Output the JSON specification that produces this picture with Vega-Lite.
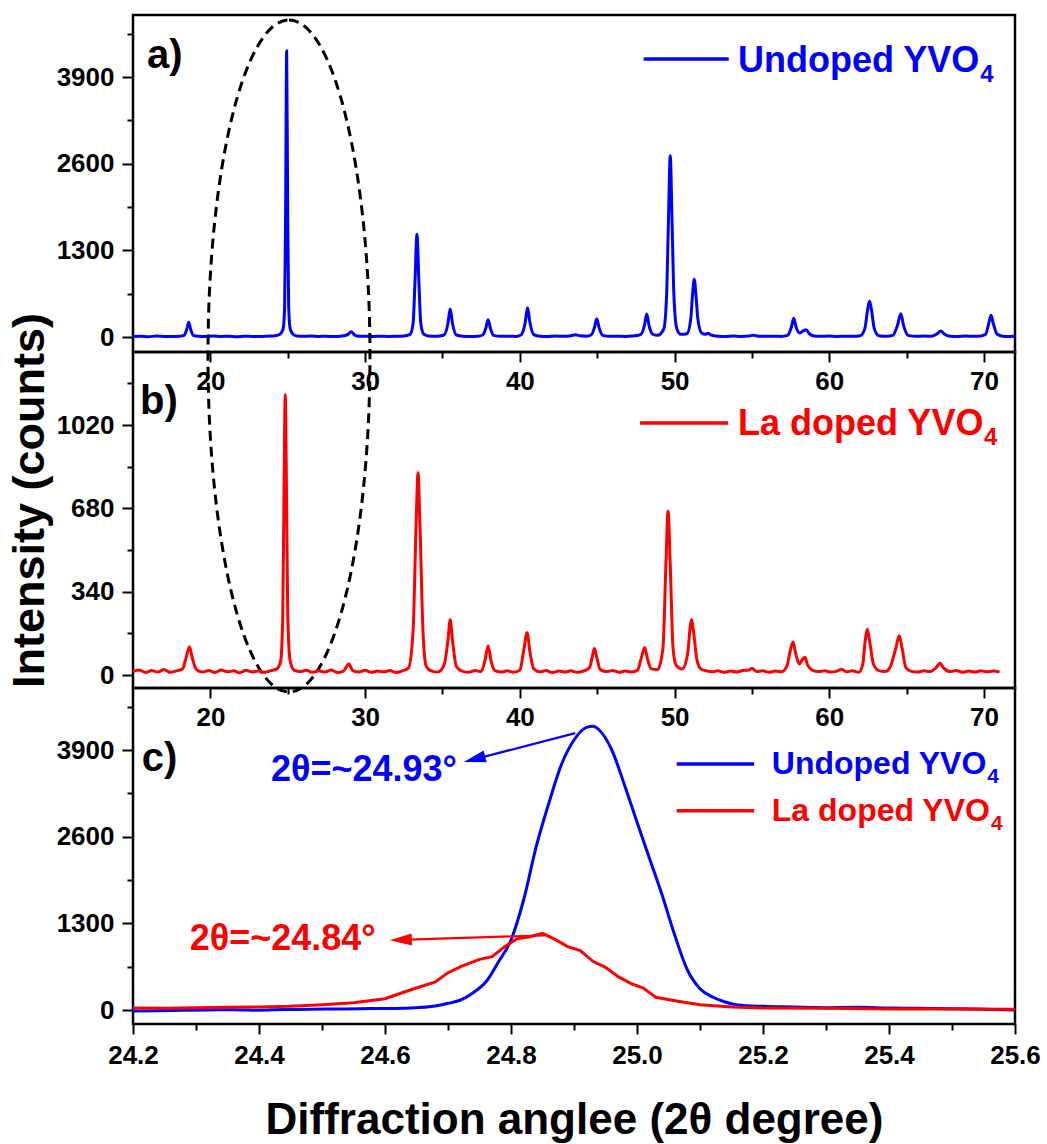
{
  "$schema": "https://vega.github.io/schema/vega-lite/v6.json",
  "background": "white",
  "padding": {"left": 5, "top": 12, "right": 5, "bottom": 5},
  "bounds": "flush",
  "spacing": 0,
  "config": {
    "view": {"stroke": "black", "strokeWidth": 2.5},
    "font": "Liberation Sans",
    "axis": {"domain": false, "grid": false, "tickColor": "black", "tickWidth": 2, "labelFont": "Liberation Sans", "labelFontWeight": "bold", "labelFontSize": 26, "labelColor": "black", "labelOverlap": false, "labelFlush": false, "titleFont": "Liberation Sans", "titleFontWeight": "bold", "titleColor": "black"}
  },
  "datasets": {
    "undoped": [
      {"x":15.0,"y":8},{"x":15.5,"y":12},{"x":16.0,"y":5},{"x":16.5,"y":14},{"x":17.0,"y":9},{"x":17.5,"y":6},{"x":18.0,"y":12},{"x":18.3,"y":25},{"x":18.48,"y":120},{"x":18.6,"y":220},{"x":18.72,"y":120},{"x":18.9,"y":25},{"x":19.2,"y":10},{"x":19.7,"y":6},{"x":20.2,"y":14},{"x":20.7,"y":8},{"x":21.2,"y":11},{"x":21.7,"y":5},{"x":22.2,"y":13},{"x":22.7,"y":9},{"x":23.2,"y":7},{"x":23.7,"y":12},{"x":24.2,"y":18},{"x":24.5,"y":40},{"x":24.7,"y":120},{"x":24.8,"y":450},{"x":24.86,"y":1800},{"x":24.93,"y":4290},{"x":25.0,"y":1800},{"x":25.06,"y":450},{"x":25.16,"y":120},{"x":25.35,"y":40},{"x":25.6,"y":15},{"x":26.0,"y":10},{"x":26.5,"y":16},{"x":27.0,"y":8},{"x":27.5,"y":12},{"x":28.0,"y":6},{"x":28.5,"y":14},{"x":28.9,"y":40},{"x":29.1,"y":80},{"x":29.3,"y":35},{"x":29.6,"y":10},{"x":30.0,"y":12},{"x":30.5,"y":7},{"x":31.0,"y":13},{"x":31.5,"y":9},{"x":32.0,"y":10},{"x":32.5,"y":14},{"x":32.9,"y":40},{"x":33.1,"y":200},{"x":33.22,"y":800},{"x":33.35,"y":1540},{"x":33.48,"y":800},{"x":33.6,"y":200},{"x":33.8,"y":40},{"x":34.1,"y":15},{"x":34.6,"y":10},{"x":35.1,"y":30},{"x":35.35,"y":200},{"x":35.5,"y":420},{"x":35.65,"y":200},{"x":35.9,"y":30},{"x":36.3,"y":12},{"x":36.8,"y":8},{"x":37.3,"y":13},{"x":37.6,"y":30},{"x":37.8,"y":130},{"x":37.95,"y":260},{"x":38.1,"y":130},{"x":38.3,"y":25},{"x":38.8,"y":10},{"x":39.3,"y":12},{"x":39.8,"y":8},{"x":40.1,"y":35},{"x":40.35,"y":220},{"x":40.5,"y":440},{"x":40.65,"y":220},{"x":40.9,"y":35},{"x":41.3,"y":12},{"x":41.8,"y":9},{"x":42.3,"y":14},{"x":42.8,"y":10},{"x":43.3,"y":20},{"x":43.6,"y":32},{"x":43.9,"y":18},{"x":44.3,"y":12},{"x":44.6,"y":30},{"x":44.82,"y":140},{"x":44.97,"y":275},{"x":45.12,"y":140},{"x":45.35,"y":25},{"x":45.8,"y":10},{"x":46.3,"y":13},{"x":46.8,"y":9},{"x":47.3,"y":14},{"x":47.8,"y":35},{"x":48.05,"y":170},{"x":48.2,"y":345},{"x":48.35,"y":170},{"x":48.6,"y":40},{"x":48.9,"y":25},{"x":49.3,"y":120},{"x":49.48,"y":600},{"x":49.6,"y":1700},{"x":49.72,"y":2720},{"x":49.84,"y":1700},{"x":49.96,"y":600},{"x":50.15,"y":120},{"x":50.4,"y":40},{"x":50.8,"y":50},{"x":51.05,"y":280},{"x":51.15,"y":600},{"x":51.27,"y":865},{"x":51.39,"y":600},{"x":51.5,"y":280},{"x":51.75,"y":60},{"x":52.0,"y":40},{"x":52.15,"y":58},{"x":52.35,"y":30},{"x":52.8,"y":12},{"x":53.3,"y":9},{"x":53.8,"y":14},{"x":54.3,"y":8},{"x":54.8,"y":15},{"x":55.1,"y":28},{"x":55.4,"y":12},{"x":55.9,"y":10},{"x":56.4,"y":13},{"x":56.9,"y":9},{"x":57.3,"y":25},{"x":57.55,"y":150},{"x":57.7,"y":280},{"x":57.85,"y":150},{"x":58.1,"y":60},{"x":58.3,"y":90},{"x":58.5,"y":110},{"x":58.7,"y":50},{"x":59.0,"y":15},{"x":59.5,"y":10},{"x":60.0,"y":14},{"x":60.5,"y":8},{"x":61.0,"y":12},{"x":61.5,"y":10},{"x":62.0,"y":20},{"x":62.3,"y":130},{"x":62.47,"y":400},{"x":62.6,"y":535},{"x":62.73,"y":400},{"x":62.9,"y":130},{"x":63.2,"y":20},{"x":63.7,"y":12},{"x":64.1,"y":25},{"x":64.4,"y":170},{"x":64.62,"y":350},{"x":64.8,"y":170},{"x":65.1,"y":25},{"x":65.6,"y":10},{"x":66.1,"y":14},{"x":66.6,"y":12},{"x":66.95,"y":45},{"x":67.2,"y":90},{"x":67.45,"y":40},{"x":67.8,"y":12},{"x":68.3,"y":9},{"x":68.8,"y":14},{"x":69.3,"y":10},{"x":69.8,"y":15},{"x":70.1,"y":40},{"x":70.3,"y":200},{"x":70.45,"y":325},{"x":70.6,"y":200},{"x":70.85,"y":40},{"x":71.2,"y":12},{"x":71.6,"y":9},{"x":72.0,"y":10}
    ],
    "doped": [
      {"x":15.0,"y":14},{"x":15.4,"y":20},{"x":15.8,"y":10},{"x":16.2,"y":18},{"x":16.6,"y":12},{"x":17.0,"y":22},{"x":17.4,"y":11},{"x":17.8,"y":17},{"x":18.2,"y":25},{"x":18.45,"y":75},{"x":18.65,"y":115},{"x":18.85,"y":65},{"x":19.1,"y":22},{"x":19.5,"y":12},{"x":19.9,"y":18},{"x":20.3,"y":10},{"x":20.7,"y":20},{"x":21.1,"y":13},{"x":21.5,"y":17},{"x":21.9,"y":9},{"x":22.3,"y":19},{"x":22.7,"y":12},{"x":23.1,"y":16},{"x":23.5,"y":11},{"x":23.9,"y":18},{"x":24.3,"y":25},{"x":24.55,"y":60},{"x":24.68,"y":250},{"x":24.76,"y":750},{"x":24.84,"y":1145},{"x":24.92,"y":750},{"x":25.0,"y":250},{"x":25.15,"y":60},{"x":25.4,"y":20},{"x":25.8,"y":14},{"x":26.2,"y":19},{"x":26.6,"y":11},{"x":27.0,"y":17},{"x":27.4,"y":12},{"x":27.8,"y":20},{"x":28.2,"y":10},{"x":28.6,"y":16},{"x":28.95,"y":45},{"x":29.2,"y":18},{"x":29.6,"y":12},{"x":30.0,"y":19},{"x":30.4,"y":11},{"x":30.8,"y":16},{"x":31.2,"y":13},{"x":31.6,"y":18},{"x":32.0,"y":10},{"x":32.4,"y":17},{"x":32.8,"y":28},{"x":33.1,"y":180},{"x":33.29,"y":600},{"x":33.42,"y":825},{"x":33.55,"y":600},{"x":33.74,"y":180},{"x":33.95,"y":35},{"x":34.3,"y":16},{"x":34.7,"y":12},{"x":35.1,"y":40},{"x":35.35,"y":140},{"x":35.5,"y":225},{"x":35.65,"y":140},{"x":35.9,"y":35},{"x":36.3,"y":15},{"x":36.7,"y":11},{"x":37.1,"y":18},{"x":37.5,"y":14},{"x":37.75,"y":60},{"x":37.95,"y":118},{"x":38.15,"y":55},{"x":38.4,"y":18},{"x":38.8,"y":12},{"x":39.2,"y":17},{"x":39.6,"y":11},{"x":40.0,"y":20},{"x":40.25,"y":100},{"x":40.47,"y":172},{"x":40.65,"y":95},{"x":40.9,"y":25},{"x":41.3,"y":13},{"x":41.7,"y":18},{"x":42.1,"y":10},{"x":42.5,"y":16},{"x":42.9,"y":12},{"x":43.3,"y":17},{"x":43.7,"y":11},{"x":44.1,"y":16},{"x":44.5,"y":30},{"x":44.7,"y":80},{"x":44.82,"y":108},{"x":44.98,"y":70},{"x":45.2,"y":22},{"x":45.6,"y":14},{"x":46.0,"y":18},{"x":46.4,"y":11},{"x":46.8,"y":16},{"x":47.2,"y":12},{"x":47.6,"y":20},{"x":47.85,"y":70},{"x":48.07,"y":112},{"x":48.25,"y":65},{"x":48.5,"y":25},{"x":48.9,"y":22},{"x":49.25,"y":110},{"x":49.44,"y":450},{"x":49.58,"y":668},{"x":49.72,"y":450},{"x":49.9,"y":110},{"x":50.1,"y":40},{"x":50.5,"y":25},{"x":50.85,"y":90},{"x":51.0,"y":190},{"x":51.1,"y":226},{"x":51.22,"y":180},{"x":51.45,"y":60},{"x":51.7,"y":25},{"x":52.0,"y":18},{"x":52.4,"y":13},{"x":52.8,"y":17},{"x":53.2,"y":11},{"x":53.6,"y":16},{"x":54.0,"y":12},{"x":54.4,"y":18},{"x":54.8,"y":20},{"x":55.0,"y":28},{"x":55.3,"y":14},{"x":55.7,"y":17},{"x":56.1,"y":11},{"x":56.5,"y":16},{"x":56.9,"y":13},{"x":57.25,"y":35},{"x":57.48,"y":100},{"x":57.65,"y":135},{"x":57.82,"y":90},{"x":58.05,"y":45},{"x":58.25,"y":62},{"x":58.42,"y":72},{"x":58.6,"y":40},{"x":58.9,"y":20},{"x":59.3,"y":14},{"x":59.7,"y":17},{"x":60.1,"y":12},{"x":60.5,"y":16},{"x":60.8,"y":24},{"x":61.1,"y":13},{"x":61.5,"y":17},{"x":61.9,"y":11},{"x":62.15,"y":40},{"x":62.32,"y":140},{"x":62.45,"y":187},{"x":62.6,"y":140},{"x":62.85,"y":45},{"x":63.2,"y":18},{"x":63.6,"y":14},{"x":63.95,"y":35},{"x":64.3,"y":110},{"x":64.52,"y":160},{"x":64.7,"y":110},{"x":64.95,"y":30},{"x":65.3,"y":15},{"x":65.7,"y":12},{"x":66.1,"y":17},{"x":66.5,"y":14},{"x":66.9,"y":30},{"x":67.15,"y":48},{"x":67.4,"y":28},{"x":67.8,"y":14},{"x":68.2,"y":18},{"x":68.6,"y":11},{"x":69.0,"y":16},{"x":69.4,"y":12},{"x":69.8,"y":17},{"x":70.2,"y":13},{"x":70.6,"y":16},{"x":71.0,"y":12}
    ],
    "zoomU": [
      {"x":24.20,"y":-15},{"x":24.24,"y":-10},{"x":24.28,"y":-5},{"x":24.32,"y":0},{"x":24.36,"y":5},{"x":24.40,"y":-3},{"x":24.44,"y":8},{"x":24.48,"y":10},{"x":24.52,"y":15},{"x":24.56,"y":20},{"x":24.60,"y":22},{"x":24.64,"y":30},{"x":24.68,"y":60},{"x":24.70,"y":100},{"x":24.72,"y":150},{"x":24.74,"y":260},{"x":24.76,"y":420},{"x":24.78,"y":720},{"x":24.80,"y":1050},{"x":24.82,"y":1650},{"x":24.84,"y":2450},{"x":24.86,"y":3100},{"x":24.88,"y":3680},{"x":24.90,"y":4050},{"x":24.92,"y":4240},{"x":24.93,"y":4255},{"x":24.94,"y":4200},{"x":24.96,"y":3900},{"x":24.98,"y":3380},{"x":25.00,"y":2820},{"x":25.02,"y":2270},{"x":25.04,"y":1720},{"x":25.06,"y":1120},{"x":25.08,"y":600},{"x":25.10,"y":320},{"x":25.12,"y":195},{"x":25.14,"y":120},{"x":25.16,"y":75},{"x":25.20,"y":55},{"x":25.25,"y":45},{"x":25.30,"y":35},{"x":25.35,"y":40},{"x":25.40,"y":30},{"x":25.45,"y":25},{"x":25.50,"y":20},{"x":25.55,"y":10},{"x":25.60,"y":0}
    ],
    "zoomD": [
      {"x":24.20,"y":30},{"x":24.25,"y":28},{"x":24.30,"y":35},{"x":24.35,"y":40},{"x":24.40,"y":45},{"x":24.45,"y":55},{"x":24.50,"y":80},{"x":24.55,"y":110},{"x":24.60,"y":170},{"x":24.64,"y":300},{"x":24.68,"y":420},{"x":24.70,"y":560},{"x":24.72,"y":650},{"x":24.75,"y":760},{"x":24.77,"y":800},{"x":24.79,"y":950},{"x":24.81,"y":1070},{"x":24.83,"y":1100},{"x":24.85,"y":1150},{"x":24.87,"y":1060},{"x":24.89,"y":950},{"x":24.91,"y":890},{"x":24.93,"y":730},{"x":24.95,"y":640},{"x":24.97,"y":500},{"x":24.99,"y":400},{"x":25.01,"y":330},{"x":25.03,"y":190},{"x":25.06,"y":140},{"x":25.10,"y":80},{"x":25.15,"y":45},{"x":25.20,"y":30},{"x":25.30,"y":25},{"x":25.40,"y":15},{"x":25.50,"y":15},{"x":25.60,"y":10}
    ]
  },
  "vconcat": [
    {
      "width": 882, "height": 337,
      "encoding": {
        "x": {"field": "x", "type": "quantitative", "scale": {"domain": [15, 72], "nice": false, "zero": false},
          "axis": {"title": null, "values": [20,25,30,35,40,45,50,55,60,65,70], "labelExpr": "datum.value % 10 === 0 ? datum.label : ''", "tickSize": {"condition": {"test": "datum.value % 10 === 0", "value": 10}, "value": 6}, "labelPadding": 6}},
        "y": {"field": "y", "type": "quantitative", "scale": {"domain": [-225, 4830], "nice": false, "zero": false},
          "axis": {"title": null, "values": [0,650,1300,1950,2600,3250,3900,4550], "format": "d", "labelExpr": "datum.value % 1300 === 0 ? datum.label : ''", "tickSize": {"condition": {"test": "datum.value % 1300 === 0", "value": 11}, "value": 6}, "labelPadding": 8}}
      },
      "layer": [
        {"data": {"name": "undoped"}, "mark": {"type": "line", "color": "#0000FF", "strokeWidth": 3, "interpolate": "monotone"}},
        {"data": {"values": [{"x": 25.08, "y": -285}]}, "mark": {"type": "point", "shape": "M0,-4.148C0.5523,-4.148,1,-2.291,1,0C1,2.291,0.5523,4.148,0,4.148C-0.5523,4.148,-1,2.291,-1,0C-1,-2.291,-0.5523,-4.148,0,-4.148Z", "size": 26244, "filled": false, "color": "black", "strokeWidth": 3, "strokeDash": [10, 6], "opacity": 1}},
        {"data": {"values": [{"x": 48.0, "x2": 53.5, "y": 4170}]}, "mark": {"type": "rule", "color": "#0000FF", "strokeWidth": 3.5}, "encoding": {"x2": {"field": "x2"}}},
        {"data": {"values": [{"x": 54.1, "y": 3975, "t": "Undoped YVO"}]}, "mark": {"type": "text", "align": "left", "baseline": "alphabetic", "fontSize": 36, "fontWeight": "bold", "color": "#0000FF"}, "encoding": {"text": {"field": "t"}}},
        {"data": {"values": [{"x": 69.75, "y": 3825, "t": "4"}]}, "mark": {"type": "text", "align": "left", "baseline": "alphabetic", "fontSize": 24, "fontWeight": "bold", "color": "#0000FF"}, "encoding": {"text": {"field": "t"}}},
        {"data": {"values": [{"x": 15.9, "y": 4035, "t": "a)"}]}, "mark": {"type": "text", "align": "left", "baseline": "alphabetic", "fontSize": 40, "fontWeight": "bold", "color": "black"}, "encoding": {"text": {"field": "t"}}}
      ]
    },
    {
      "width": 882, "height": 336,
      "encoding": {
        "x": {"field": "x", "type": "quantitative", "scale": {"domain": [15, 72], "nice": false, "zero": false},
          "axis": {"title": null, "values": [20,25,30,35,40,45,50,55,60,65,70], "labelExpr": "datum.value % 10 === 0 ? datum.label : ''", "tickSize": {"condition": {"test": "datum.value % 10 === 0", "value": 10}, "value": 6}, "labelPadding": 6}},
        "y": {"field": "y", "type": "quantitative", "scale": {"domain": [-53, 1318], "nice": false, "zero": false},
          "axis": {"title": "Intensity (counts)", "titleFontSize": 45, "titlePadding": 4, "titleY": 148, "values": [0,170,340,510,680,850,1020,1190], "format": "d", "labelExpr": "datum.value % 340 === 0 ? datum.label : ''", "tickSize": {"condition": {"test": "datum.value % 340 === 0", "value": 11}, "value": 6}, "labelPadding": 8}}
      },
      "layer": [
        {"data": {"name": "doped"}, "mark": {"type": "line", "color": "#FF0000", "strokeWidth": 3, "interpolate": "monotone"}},
        {"data": {"values": [{"x": 47.77, "x2": 53.46, "y": 1028}]}, "mark": {"type": "rule", "color": "#FF0000", "strokeWidth": 3.5}, "encoding": {"x2": {"field": "x2"}}},
        {"data": {"values": [{"x": 54.1, "y": 979, "t": "La doped YVO"}]}, "mark": {"type": "text", "align": "left", "baseline": "alphabetic", "fontSize": 36, "fontWeight": "bold", "color": "#FF0000"}, "encoding": {"text": {"field": "t"}}},
        {"data": {"values": [{"x": 70.0, "y": 938, "t": "4"}]}, "mark": {"type": "text", "align": "left", "baseline": "alphabetic", "fontSize": 24, "fontWeight": "bold", "color": "#FF0000"}, "encoding": {"text": {"field": "t"}}},
        {"data": {"values": [{"x": 15.45, "y": 1066, "t": "b)"}]}, "mark": {"type": "text", "align": "left", "baseline": "alphabetic", "fontSize": 40, "fontWeight": "bold", "color": "black"}, "encoding": {"text": {"field": "t"}}}
      ]
    },
    {
      "width": 882, "height": 336,
      "encoding": {
        "x": {"field": "x", "type": "quantitative", "scale": {"domain": [24.2, 25.6], "nice": false, "zero": false},
          "axis": {"title": "Diffraction anglee (2θ degree)", "titleFontSize": 44, "titlePadding": 30, "values": [24.2,24.3,24.4,24.5,24.6,24.7,24.8,24.9,25.0,25.1,25.2,25.3,25.4,25.5,25.6], "labelExpr": "round(datum.value*10) % 2 === 0 ? format(datum.value, '.1f') : ''", "tickSize": {"condition": {"test": "round(datum.value*10) % 2 === 0", "value": 10}, "value": 6}, "labelPadding": 8}},
        "y": {"field": "y", "type": "quantitative", "scale": {"domain": [-210, 4830], "nice": false, "zero": false},
          "axis": {"title": null, "values": [0,650,1300,1950,2600,3250,3900,4550], "format": "d", "labelExpr": "datum.value % 1300 === 0 ? datum.label : ''", "tickSize": {"condition": {"test": "datum.value % 1300 === 0", "value": 11}, "value": 6}, "labelPadding": 8}}
      },
      "layer": [
        {"data": {"name": "zoomU"}, "mark": {"type": "line", "color": "#0000FF", "strokeWidth": 3, "interpolate": "monotone"}},
        {"data": {"name": "zoomD"}, "mark": {"type": "line", "color": "#FF0000", "strokeWidth": 3}},
        {"data": {"values": [{"x": 25.063, "x2": 25.186, "y": 3690}]}, "mark": {"type": "rule", "color": "#0000FF", "strokeWidth": 3.5}, "encoding": {"x2": {"field": "x2"}}},
        {"data": {"values": [{"x": 25.063, "x2": 25.186, "y": 2988}]}, "mark": {"type": "rule", "color": "#FF0000", "strokeWidth": 3.5}, "encoding": {"x2": {"field": "x2"}}},
        {"data": {"values": [{"x": 25.214, "y": 3541, "t": "Undoped YVO"}]}, "mark": {"type": "text", "align": "left", "baseline": "alphabetic", "fontSize": 32, "fontWeight": "bold", "color": "#0000FF"}, "encoding": {"text": {"field": "t"}}},
        {"data": {"values": [{"x": 25.556, "y": 3406, "t": "4"}]}, "mark": {"type": "text", "align": "left", "baseline": "alphabetic", "fontSize": 21, "fontWeight": "bold", "color": "#0000FF"}, "encoding": {"text": {"field": "t"}}},
        {"data": {"values": [{"x": 25.214, "y": 2839, "t": "La doped YVO"}]}, "mark": {"type": "text", "align": "left", "baseline": "alphabetic", "fontSize": 32, "fontWeight": "bold", "color": "#FF0000"}, "encoding": {"text": {"field": "t"}}},
        {"data": {"values": [{"x": 25.562, "y": 2704, "t": "4"}]}, "mark": {"type": "text", "align": "left", "baseline": "alphabetic", "fontSize": 21, "fontWeight": "bold", "color": "#FF0000"}, "encoding": {"text": {"field": "t"}}},
        {"data": {"values": [{"x": 24.419, "y": 3436, "t": "2θ=~24.93°"}]}, "mark": {"type": "text", "align": "left", "baseline": "alphabetic", "fontSize": 36, "fontWeight": "bold", "color": "#0000FF"}, "encoding": {"text": {"field": "t"}}},
        {"data": {"values": [{"x": 24.29, "y": 896, "t": "2θ=~24.84°"}]}, "mark": {"type": "text", "align": "left", "baseline": "alphabetic", "fontSize": 36, "fontWeight": "bold", "color": "#FF0000"}, "encoding": {"text": {"field": "t"}}},
        {"data": {"values": [{"x": 24.902, "y": 4153, "x2": 24.742, "y2": 3762}]}, "mark": {"type": "rule", "color": "#0000FF", "strokeWidth": 2.2}, "encoding": {"x2": {"field": "x2"}, "y2": {"field": "y2"}}},
        {"data": {"values": [{"x": 24.854, "y": 1120, "x2": 24.625, "y2": 1052}]}, "mark": {"type": "rule", "color": "#FF0000", "strokeWidth": 2.2}, "encoding": {"x2": {"field": "x2"}, "y2": {"field": "y2"}}},
        {"data": {"values": [{"x": 24.742, "y": 3762}]}, "mark": {"type": "point", "shape": "M-1,0L1,-0.55L1,0.55Z", "size": 484, "filled": true, "color": "#0000FF", "opacity": 1, "angle": 345.3}},
        {"data": {"values": [{"x": 24.625, "y": 1052}]}, "mark": {"type": "point", "shape": "M-1,0L1,-0.55L1,0.55Z", "size": 484, "filled": true, "color": "#FF0000", "opacity": 1, "angle": 358.2}},
        {"data": {"values": [{"x": 24.214, "y": 3586, "t": "c)"}]}, "mark": {"type": "text", "align": "left", "baseline": "alphabetic", "fontSize": 40, "fontWeight": "bold", "color": "black"}, "encoding": {"text": {"field": "t"}}}
      ]
    }
  ]
}
